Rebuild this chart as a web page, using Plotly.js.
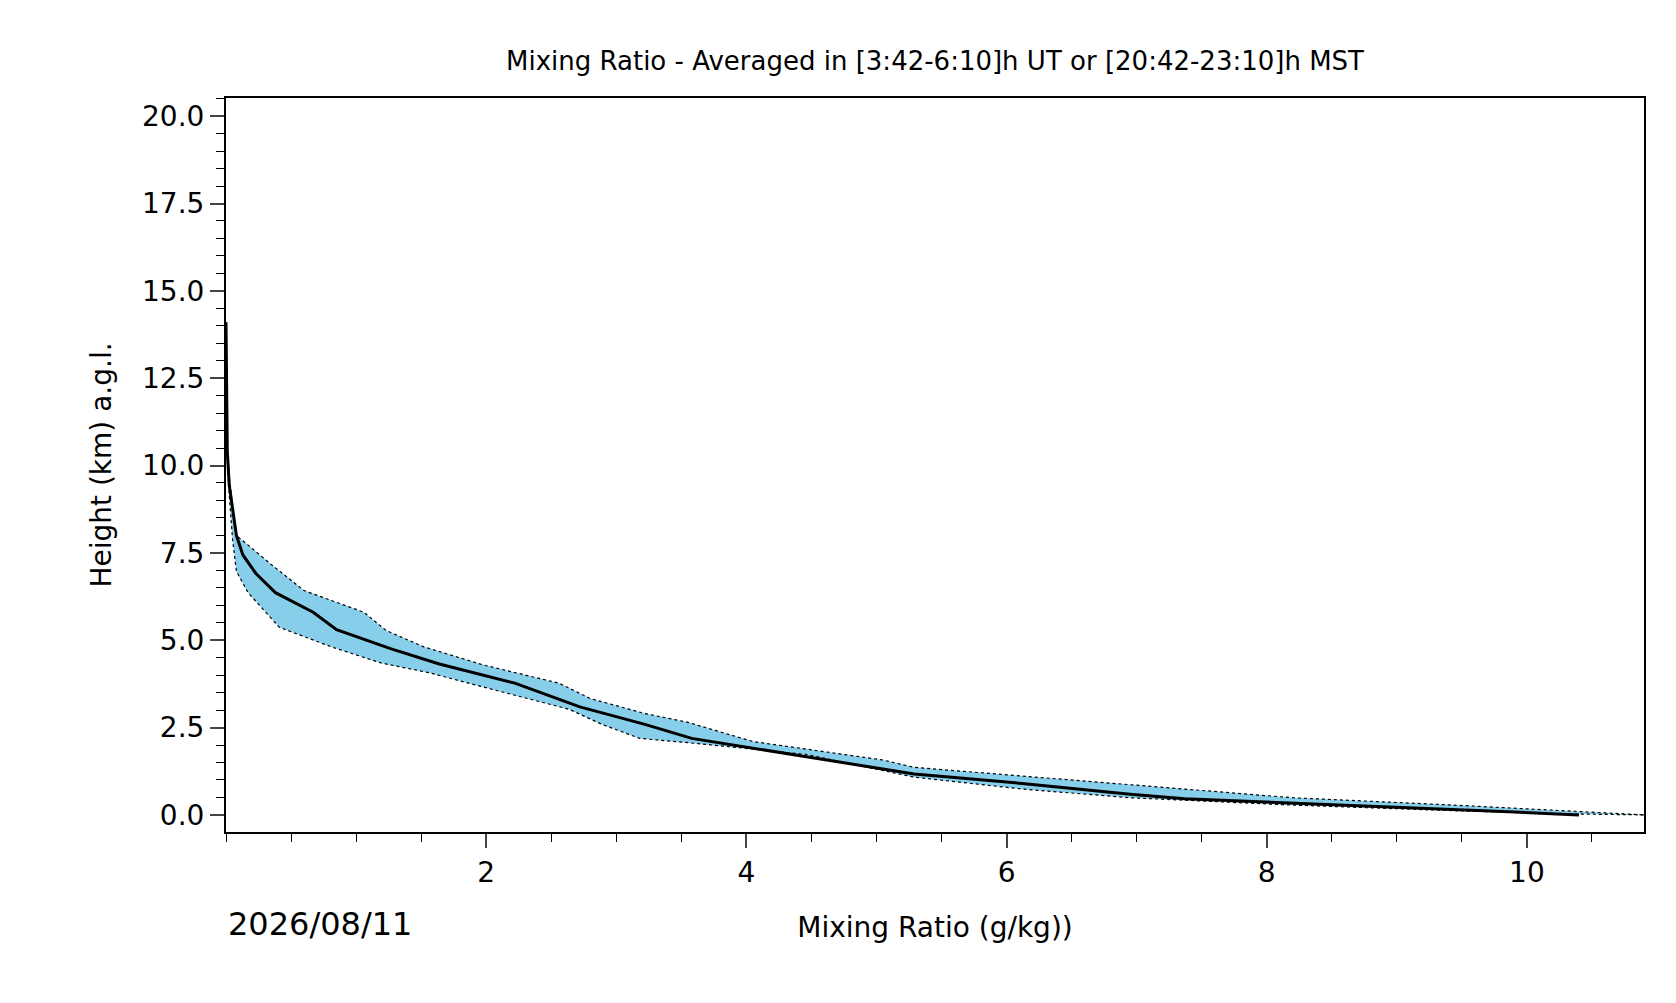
<!DOCTYPE html>
<html>
<head>
<meta charset="utf-8">
<script src="https://cdn.plot.ly/plotly-3.0.1.min.js"></script>
<style>body{margin:0;background:#fff}</style>
</head>
<body>
<div id="chart"></div>
<script>
// mean profile
const meanX = [0.0, 0.01, 0.025, 0.08, 0.13, 0.23, 0.38, 0.67, 0.85, 1.06, 1.27, 1.64, 2.22, 2.72, 3.22, 3.58, 4.05, 4.88, 5.29, 6.12, 6.95, 7.37, 8.2, 9.03, 9.86, 10.4];
const meanY = [14.1, 10.4, 9.44, 8.0, 7.44, 6.91, 6.36, 5.8, 5.3, 5.03, 4.75, 4.32, 3.77, 3.09, 2.59, 2.19, 1.91, 1.42, 1.17, 0.9, 0.59, 0.46, 0.34, 0.22, 0.09, 0.0];
// upper / lower envelope
const upX = [0.0, 0.012, 0.03, 0.08, 0.36, 0.6, 1.06, 1.23, 1.52, 1.98, 2.56, 2.8, 3.22, 3.55, 4.05, 5.05, 5.29, 6.12, 6.95, 8.2, 9.44, 10.27, 10.9];
const upY = [14.1, 10.4, 9.5, 8.0, 7.13, 6.42, 5.8, 5.28, 4.81, 4.29, 3.77, 3.33, 2.9, 2.65, 2.1, 1.57, 1.36, 1.11, 0.86, 0.49, 0.28, 0.12, 0.0];
const loX = [0.0, 0.008, 0.02, 0.05, 0.08, 0.17, 0.41, 0.81, 1.19, 1.56, 2.06, 2.64, 2.89, 3.18, 3.63, 4.46, 5.29, 6.12, 6.95, 8.2, 9.44, 10.27, 10.9];
const loY = [14.1, 10.4, 9.4, 7.9, 6.97, 6.36, 5.37, 4.81, 4.35, 4.07, 3.58, 3.02, 2.59, 2.19, 2.04, 1.73, 1.08, 0.74, 0.49, 0.28, 0.12, 0.03, 0.0];

const band = {
    x: upX.concat(loX.slice().reverse()),
    y: upY.concat(loY.slice().reverse()),
    type: "scatter", mode: "lines", fill: "toself",
    fillcolor: "#87CEEB", line: { width: 0 }, hoverinfo: "skip",
};
const upLine = { x: upX, y: upY, type: "scatter", mode: "lines", line: { color: "black", width: 1.2, dash: "dot" } };
const loLine = { x: loX, y: loY, type: "scatter", mode: "lines", line: { color: "black", width: 1.2, dash: "dot" } };
const mean = { x: meanX, y: meanY, type: "scatter", mode: "lines", line: { color: "black", width: 3 } };

const font = { family: "DejaVu Sans", color: "black" };
const layout = {
    width: 1676, height: 1003, autosize: false,
    margin: { l: 226, r: 32, t: 98, b: 171 },
    showlegend: false,
    plot_bgcolor: "white", paper_bgcolor: "white",
    font: { ...font, size: 24 },
    title: { text: "Mixing Ratio - Averaged in [3:42-6:10]h UT or [20:42-23:10]h MST", font: { ...font, size: 26 }, xref: "paper", x: 0.5, xanchor: "center", y: 0.939, yanchor: "middle" },
    xaxis: {
        range: [0, 10.9], tickvals: [2, 4, 6, 8, 10], ticks: "outside", ticklen: 14, tickwidth: 1.6,
        showgrid: false, zeroline: false, showline: true, mirror: true, linecolor: "black", linewidth: 2,
        minor: { dtick: 0.5, tick0: 0, ticks: "outside", ticklen: 8, tickcolor: "black", tickwidth: 1.3 },
        tickfont: { ...font, size: 28 },
        title: { text: "Mixing Ratio (g/kg))", font: { ...font, size: 28 }, standoff: 30 },
    },
    yaxis: {
        range: [-0.49, 20.52], tickvals: [0, 2.5, 5, 7.5, 10, 12.5, 15, 17.5, 20],
        ticktext: ["0.0", "2.5", "5.0", "7.5", "10.0", "12.5", "15.0", "17.5", "20.0"],
        ticks: "outside", ticklen: 14, tickwidth: 1.6,
        showgrid: false, zeroline: false, showline: true, mirror: true, linecolor: "black", linewidth: 2,
        minor: { dtick: 0.5, tick0: 0, ticks: "outside", ticklen: 8, tickcolor: "black", tickwidth: 1.3 },
        tickfont: { ...font, size: 28 },
        title: { text: "Height (km) a.g.l.", font: { ...font, size: 28 }, standoff: 22 },
    },
    annotations: [{
        text: "2026/08/11", xref: "paper", yref: "paper", x: 0, y: -0.125, xanchor: "left", yanchor: "middle",
        showarrow: false, font: { ...font, size: 32 },
    }],
};
Plotly.newPlot("chart", [band, upLine, loLine, mean], layout, { displayModeBar: false });
</script>
</body>
</html>
